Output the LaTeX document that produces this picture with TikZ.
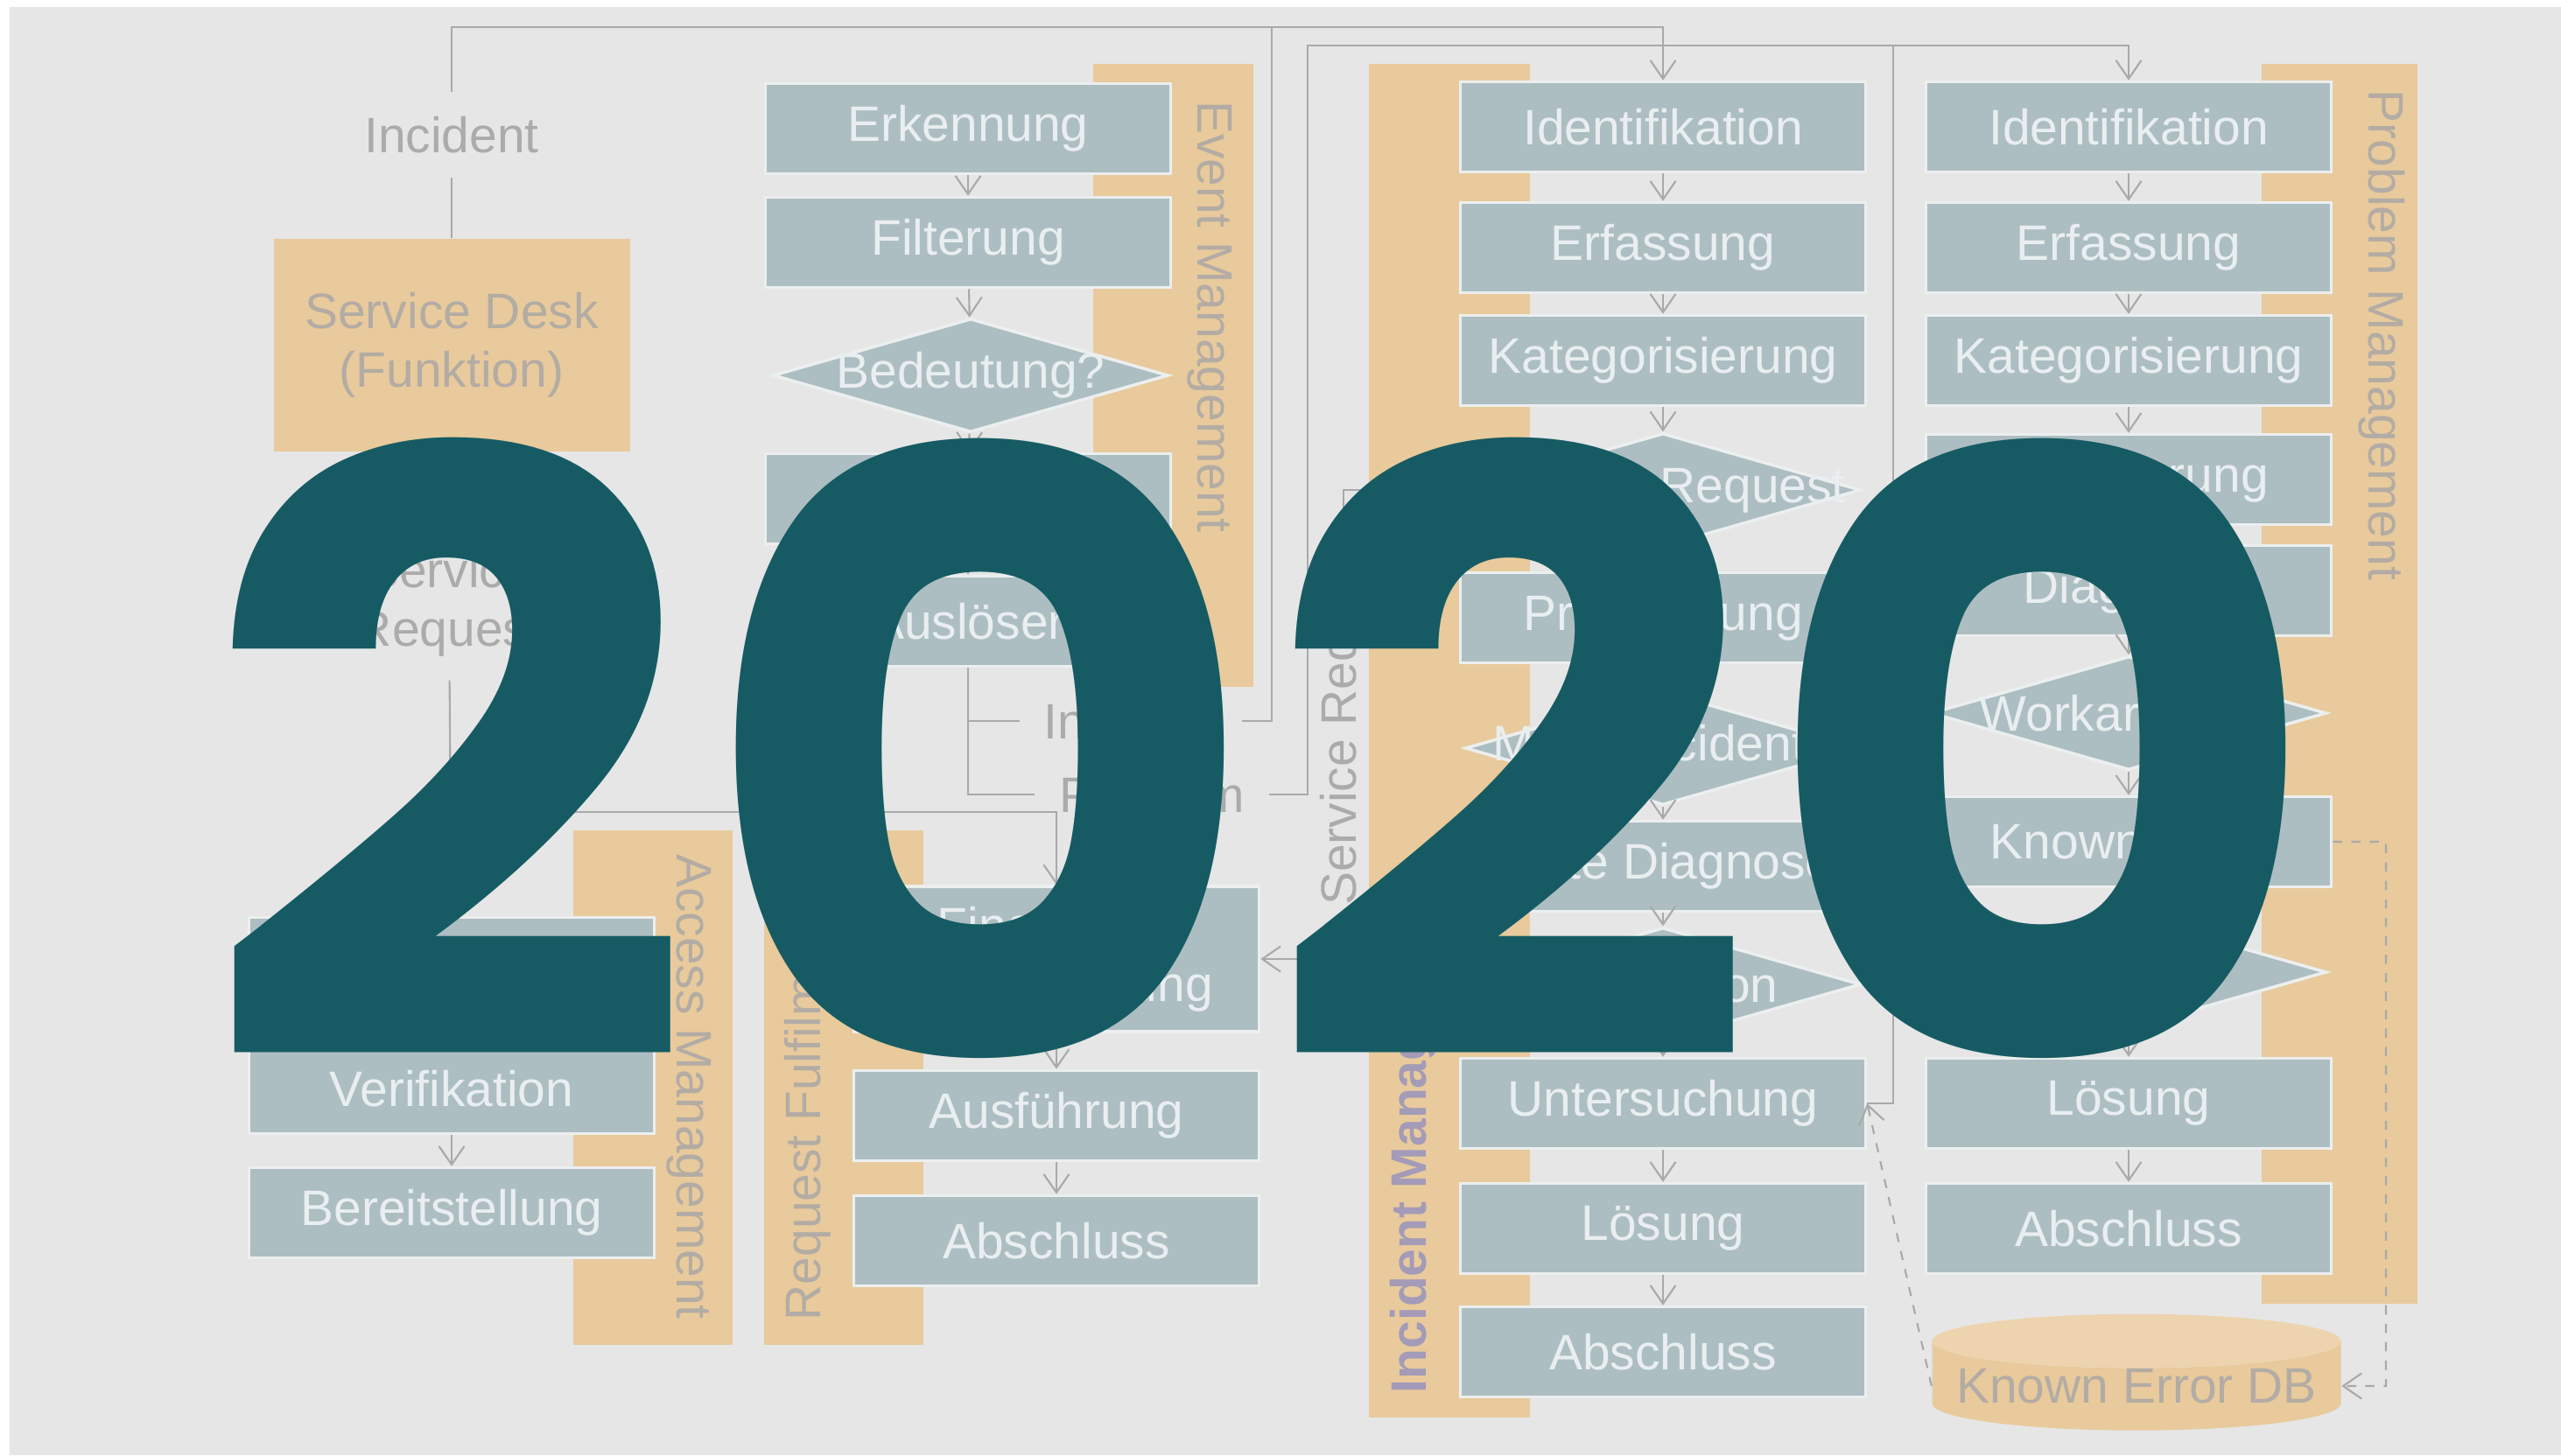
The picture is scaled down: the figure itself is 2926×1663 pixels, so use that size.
\documentclass[tikz,border=0pt]{standalone}
\usepackage{fontspec}
\setmainfont{Liberation Sans}
\newfontfamily\yearfont{Poppins}
\usetikzlibrary{shapes.geometric, arrows.meta, positioning, calc}
\usepackage{xcolor}

\definecolor{bggray}{HTML}{E6E6E6}
\definecolor{boxfill}{HTML}{ADBEC2}
\definecolor{boxedge}{HTML}{ECEFEF}
\definecolor{boxtext}{HTML}{E9EEF0}
\definecolor{barorange}{HTML}{E8CA9C}
\definecolor{barlight}{HTML}{EDD4AE}
\definecolor{bartext}{HTML}{B3ACA4}
\definecolor{linegray}{HTML}{A9A9A9}
\definecolor{labelgray}{HTML}{ABABAB}
\definecolor{incpurple}{HTML}{A39BB8}
\definecolor{yearteal}{HTML}{165B63}

\newcommand\procfont{\fontsize{16.2}{19}\selectfont}

\begin{document}
\begin{tikzpicture}[x=0.1mm, y=-0.1mm,
      procbox/.style={draw=boxedge, rectangle, line width=1pt, fill=boxfill,
                      minimum width=4.63cm, minimum height=1.03cm, inner sep=0pt,
                      align=center, text=boxtext, font=\procfont},
      decision/.style={draw=boxedge, diamond, line width=1pt, fill=boxfill,
                       minimum width=4.52cm, minimum height=1.3cm, inner sep=0pt,
                       aspect=3.5},
      dtext/.style={text=boxtext, font=\procfont, inner sep=0pt},
      linelabel/.style={text=labelgray, font=\procfont, align=center, inner sep=0.27cm},
      bartag/.style={text=bartext, font=\procfont},
      conn/.style={draw=linegray, line width=0.6pt},
      flow/.style={conn, -{Straight Barb[length=2.1mm, width=2.9mm]}},
      yeartext/.style={text=yearteal, font=\yearfont\bfseries\fontsize{286}{286}\selectfont,
                       inner sep=0pt}
    ]
    % Hintergrund
    \useasboundingbox (0,0) rectangle (2926,1663);
    \fill[white] (0,0) rectangle (2926,1663);
    \fill[bggray] (11,8) rectangle (2926,1663);

    % Baender
    \fill[barorange] (1249,73) rectangle (1432,785);
    \fill[barorange] (655,949) rectangle (837,1537);
    \fill[barorange] (873,949) rectangle (1055,1537);
    \fill[barorange] (1564,73) rectangle (1748,1620);
    \fill[barorange] (2584,73) rectangle (2762,1490);
    \node[bartag, rotate=-90] (tagev) at (1382,362) {Event Management};
    \node[bartag, rotate=-90] (tagac) at (787,1242) {Access Management};
    \node[bartag, rotate=90] (tagrq) at (923,1272) {Request Fulfilment};
    \node[bartag, rotate=90, text=incpurple, font=\procfont\bfseries] (tagin) at (1615,1301) {Incident Management};
    \node[bartag, rotate=-90] (tagpr) at (2721,383) {Problem Management};

    % Service Desk
    \node[fill=barorange, minimum width=4.07cm, minimum height=2.43cm, align=center,
          text=bartext, font=\procfont] (sd) at (516,394) {Service Desk\\(Funktion)};
    \node[linelabel] (lblinc) at (516,154) {Incident};
    \node[linelabel] (lblsd) at (513,690) {Service\\Request};

    % Access Management
    \node[procbox] (acc1)   at (516,1100) {};
    \node[procbox] (accver) at (516,1244) {Verifikation};
    \node[procbox] (accbe)  at (516,1386) {Bereitstellung};

    % Event Management
    \node[procbox] (evd) at (1106,147) {Erkennung};
    \node[procbox] (evf) at (1106,277) {Filterung};
    \node[decision, label={[dtext]center:Bedeutung?}] (evb) at (1109,429) {};
    \node[procbox] (evr) at (1106,570) {};
    \node[procbox] (eva) at (1106,710) {Ausl\"oser};
    \node[linelabel] (lblei) at (1292,824) {Incident};
    \node[linelabel] (lblpr) at (1316,908) {Problem};

    % Request Fulfilment
    \node[procbox, minimum height=1.66cm] (rqf) at (1207,1096) {Finanzielle\\Genehmigung};
    \node[procbox] (rqa) at (1207,1275) {Ausf\"uhrung};
    \node[procbox] (rqb) at (1207,1418) {Abschluss};

    % Incident Management
    \node[procbox] (iid) at (1900,145) {Identifikation};
    \node[procbox] (ier) at (1900,283) {Erfassung};
    \node[procbox] (ika) at (1900,412) {Kategorisierung};
    \node[decision, label={[dtext]center:Service Request}] (irq) at (1900,560) {};
    \node[procbox] (ipr) at (1900,706) {Priorisierung};
    \node[decision, label={[dtext]center:Major Incident?}] (imi) at (1900,855) {};
    \node[procbox] (ied) at (1900,990) {Erste Diagnose};
    \node[decision, label={[dtext]center:Eskalation}] (ies) at (1900,1125) {};
    \node[procbox] (ius) at (1900,1261) {Untersuchung};
    \node[procbox] (ilo) at (1900,1404) {L\"osung};
    \node[procbox] (iab) at (1900,1545) {Abschluss};
    \node[linelabel, rotate=90] (lblsr) at (1535,826) {Service Request};

    % Problem Management
    \node[procbox] (pid) at (2432,145) {Identifikation};
    \node[procbox] (per) at (2432,283) {Erfassung};
    \node[procbox] (pka) at (2432,412) {Kategorisierung};
    \node[procbox] (ppr) at (2432,548) {Priorisierung};
    \node[procbox] (pdi) at (2432,675) {Diagnose};
    \node[decision, label={[dtext]center:Workaround?}] (pwo) at (2432,815) {};
    \node[procbox] (pke) at (2432,962) {Known Error};
    \node[decision] (pch) at (2432,1111) {};
    \node[procbox] (plo) at (2432,1261) {L\"osung};
    \node[procbox] (pab) at (2432,1404) {Abschluss};
    \node[cylinder, shape border rotate=90, aspect=0.15, inner sep=0pt,
          cylinder uses custom fill, cylinder body fill=barorange, cylinder end fill=barlight,
          minimum width=4.67cm, minimum height=1.05cm, text=bartext, font=\procfont]
          (kedb) at (2441,1584) {Known Error DB};

    % Knickpunkte
    \coordinate (topinc)    at (1900,31);
    \coordinate (evinctop)  at (1453,31);
    \coordinate (evprtop)   at (1494,52);
    \coordinate (untop)     at (2163,52);
    \coordinate (sreqsplit) at (516,928);
    \coordinate (kecorner)  at (2726,1584);

    % Verbindungen
    \draw[flow] (lblinc) |- (topinc) -- (iid);
    \draw[conn] (sd) -- (lblinc);
    \draw[conn] (sd) -- (lblsd);
    \draw[flow] (lblsd) -- (acc1);
    \draw[flow] (sreqsplit) -| (rqf);
    \draw[flow] (acc1) -- (accver);
    \draw[flow] (accver) -- (accbe);

    \draw[flow] (evd) -- (evf);
    \draw[flow] (evf) -- (evb);
    \draw[flow] (evb) -- (evr);
    \draw[flow] (evr) -- (eva);
    \draw[conn] (eva) |- (lblei);
    \draw[conn] (eva) |- (lblpr);
    \draw[conn] (lblei) -| (evinctop);
    \draw[flow] (lblpr) -| (evprtop) -| (pid);

    \draw[flow] (rqf) -- (rqa);
    \draw[flow] (rqa) -- (rqb);

    \draw[flow] (iid) -- (ier);
    \draw[flow] (ier) -- (ika);
    \draw[flow] (ika) -- (irq);
    \draw[flow] (irq) -- (ipr);
    \draw[flow] (ipr) -- (imi);
    \draw[flow] (imi) -- (ied);
    \draw[flow] (ied) -- (ies);
    \draw[flow] (ies) -- (ius);
    \draw[flow] (ius) -- (ilo);
    \draw[flow] (ilo) -- (iab);
    \draw[conn] (irq) -| (lblsr);
    \draw[flow] (lblsr) |- (rqf);
    \draw[conn] (ius) -| (untop);

    \draw[flow] (pid) -- (per);
    \draw[flow] (per) -- (pka);
    \draw[flow] (pka) -- (ppr);
    \draw[flow] (ppr) -- (pdi);
    \draw[flow] (pdi) -- (pwo);
    \draw[flow] (pwo) -- (pke);
    \draw[flow] (pke) -- (pch);
    \draw[flow] (pch) -- (plo);
    \draw[flow] (plo) -- (pab);
    \draw[flow, dashed] (pke) -| (kecorner) -- (kedb);
    \draw[flow, dashed] (kedb.180) -- (ius.east);

    % Jahreszahl
    \node[yeartext, anchor=base west] (year) at (229,1212) {\scalebox{0.987}[0.95]{2020}};
  \end{tikzpicture}
\end{document}
